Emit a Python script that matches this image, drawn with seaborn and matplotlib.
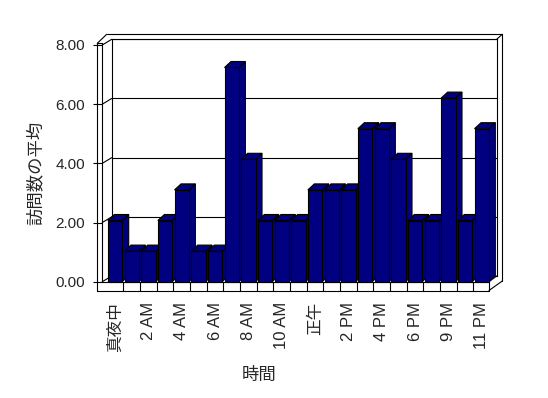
import seaborn as sns
import matplotlib.pyplot as plt
import pandas as pd
from matplotlib.lines import Line2D
from matplotlib.patches import Polygon

# datos: promedio de visitas por hora (no hay barra para 8 PM)
hour_labels = ['真夜中', '1 AM', '2 AM', '3 AM', '4 AM', '5 AM', '6 AM', '7 AM',
               '8 AM', '9 AM', '10 AM', '11 AM', '正午', '1 PM', '2 PM', '3 PM',
               '4 PM', '5 PM', '6 PM', '7 PM', '9 PM', '10 PM', '11 PM']
avg_visits = [2, 1, 1, 2, 3, 1, 1, 7, 4, 2, 2, 2, 3, 3, 3, 5, 5, 4, 2, 2, 6, 2, 5]
y_ticks = [0, 2, 4, 6, 8]
y_tick_labels = ['0.00', '2.00', '4.00', '6.00', '8.00']
x_title = '時間'
y_title = '訪問数の平均'

NAVY = '#000080'
LW = 0.8

sns.set_style('white')
plt.rcParams['font.family'] = ['Liberation Sans', 'Noto Sans CJK JP', 'DejaVu Sans']

FW, FH = 548, 398
fig = plt.figure(figsize=(FW / 100, FH / 100), dpi=100)


def rect(left, top, right, bottom):
    # pixeles (origen arriba a la izquierda) -> fracciones de la figura
    return [left / FW, 1 - bottom / FH, (right - left) / FW, (bottom - top) / FH]


def fpt(x, y):
    return x / FW, 1 - y / FH


# geometria del "3D" en pixeles
FRONT_L, FRONT_R, FRONT_0, FRONT_8 = 102.3, 487.3, 281.7, 45.0
DX, DY = 9.4, -5.7          # desplazamiento de la pared del fondo
WALL_T = 5.0                # grosor de paredes
FLOOR_B = 290.5             # borde inferior del piso
BAR_L, BAR_R, BAR_PX = 106.7, 490.0, 30.6

# pared del fondo con la grilla
wall = fig.add_axes(rect(FRONT_L + DX, FRONT_8 + DY, FRONT_R + DX, FRONT_0 + DY))
wall.set_zorder(0)
wall.set_ylim(0, 8)
wall.set_yticks(y_ticks)
wall.set_yticklabels([])
wall.set_xticks([])
wall.tick_params(axis='y', length=0)
wall.grid(axis='y', color='black', lw=LW)
for s in wall.spines.values():
    s.set_color('black')
    s.set_linewidth(LW)

# eje frontal con las etiquetas
front = fig.add_axes(rect(FRONT_L, FRONT_8, FRONT_R, FRONT_0))
front.set_zorder(1)
front.patch.set_alpha(0)
front.set_ylim(0, 8)
front.set_yticks(y_ticks)
front.set_yticklabels(y_tick_labels)
front.set_xticks([])
front.tick_params(axis='y', length=6.7, width=LW, color='black', pad=5.5,
                  labelsize=11, left=True)
for k, s in front.spines.items():
    s.set_visible(k == 'left')
front.spines['left'].set_color('black')
front.spines['left'].set_linewidth(LW)

# barras
bars = fig.add_axes(rect(BAR_L, FRONT_0 - 8 * BAR_PX, BAR_R, FRONT_0))
bars.set_zorder(2)
bars.patch.set_alpha(0)
df = pd.DataFrame({'hora': hour_labels, 'visitas': avg_visits})
sns.barplot(data=df, x='hora', y='visitas', ax=bars, color=NAVY, saturation=1,
            width=0.86, edgecolor='black', linewidth=LW)
bars.set_xlim(-0.5, len(hour_labels) - 0.5)
bars.set_ylim(0, 8)
bars.set_xlabel('')
bars.set_ylabel('')
bars.set_yticks([])
tick_idx = list(range(0, len(hour_labels), 2))
bars.set_xticks(tick_idx)
bars.set_xticklabels([hour_labels[i] for i in tick_idx])
bars.tick_params(axis='x', length=0, pad=14.4, labelsize=12, labelrotation=90)
for s in bars.spines.values():
    s.set_visible(False)

# caras laterales y superiores de cada barra
ddx = 6.5 / ((BAR_R - BAR_L) / len(hour_labels))
ddy = 6.0 / BAR_PX
for i, p in enumerate(bars.patches):
    x0, w, h = p.get_x(), p.get_width(), p.get_height()
    p.set_zorder(3 + i * 0.01 + 0.005)
    p.set_clip_on(False)
    side = [(x0 + w, 0), (x0 + w + ddx, ddy), (x0 + w + ddx, h + ddy), (x0 + w, h)]
    top = [(x0, h), (x0 + w, h), (x0 + w + ddx, h + ddy), (x0 + ddx, h + ddy)]
    for pts in (side, top):
        bars.add_patch(Polygon(pts, closed=True, fc=NAVY, ec='black', lw=LW,
                               zorder=3 + i * 0.01, clip_on=False))


def seg(ax, p0, p1):
    (x0, y0), (x1, y1) = fpt(*p0), fpt(*p1)
    ax.add_artist(Line2D([x0, x1], [y0, y1], transform=fig.transFigure,
                         color='black', lw=LW, clip_on=False))


# paredes y piso
wl = FRONT_L - WALL_T
top_y = FRONT_8 - 1.7
seg(wall, (wl, top_y), (wl, FLOOR_B))
seg(wall, (wl, top_y), (FRONT_L, top_y))
seg(wall, (FRONT_L, top_y), (FRONT_L, FRONT_8))
seg(wall, (wl, top_y), (wl + DX, FRONT_8 + DY - WALL_T))
seg(wall, (wl + DX, FRONT_8 + DY - WALL_T), (FRONT_R + DX + 5.6, FRONT_8 + DY - WALL_T))
seg(wall, (FRONT_R + DX, FRONT_8 + DY), (FRONT_R + DX + 5.6, FRONT_8 + DY - WALL_T))
seg(wall, (FRONT_R + DX + 5.6, FRONT_8 + DY - WALL_T), (FRONT_R + DX + 5.6, FRONT_0 - 0.7))
seg(wall, (wl, FLOOR_B), (BAR_R - 1, FLOOR_B))
seg(wall, (FRONT_L, FRONT_0), (BAR_R - 1, FRONT_0))
seg(wall, (BAR_R - 1, FRONT_0), (BAR_R - 1, FLOOR_B))
seg(wall, (BAR_R - 1, FLOOR_B), (FRONT_R + DX + 5.6, FRONT_0 - 0.7))
seg(wall, (BAR_R - 1, FRONT_0), (FRONT_R + DX, FRONT_0 + DY))

# grilla sobre la pared izquierda
for v in y_ticks:
    yf = FH - front.transData.transform((0, v))[1]
    yb = FH - wall.transData.transform((0, v))[1]
    seg(wall, (FRONT_L, yf), (FRONT_L + DX, yb))

# divisiones del piso por categoria
for i in range(len(hour_labels) - 1):
    xd = bars.transData.transform((i + 0.5, 0))[0]
    seg(wall, (xd, FRONT_0), (xd, FLOOR_B))

fig.text(*fpt(259.5, 375), x_title, ha='center', va='center', fontsize=12.5)
fig.text(*fpt(35, 173), y_title, ha='center', va='center', fontsize=12.5,
         rotation=90)

fig.savefig('out.png', dpi=100, facecolor='white')
